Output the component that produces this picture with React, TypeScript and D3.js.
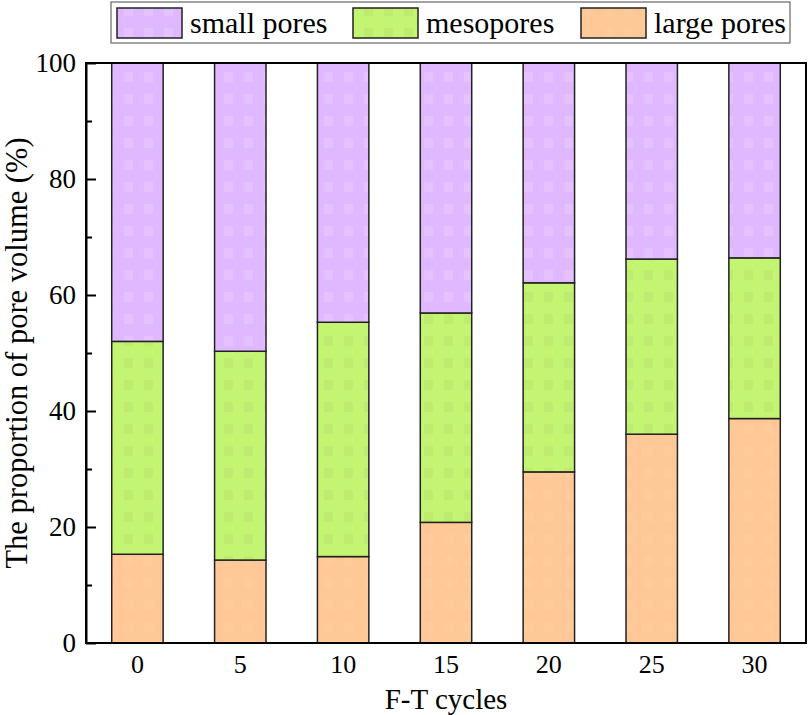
import React, { useEffect, useRef } from "react";
import * as d3 from "d3";

const categories = ["0", "5", "10", "15", "20", "25", "30"];
const largePores = [15.3, 14.3, 14.9, 20.8, 29.5, 36.0, 38.7];
const mesopores = [36.7, 36.0, 40.4, 36.1, 32.6, 30.2, 27.7];
const smallPores = [48.0, 49.7, 44.7, 43.1, 37.9, 33.8, 33.6];
const seriesNames = ["large pores", "mesopores", "small pores"];
const legendOrder = ["small pores", "mesopores", "large pores"];
const yTicks = [0, 20, 40, 60, 80, 100];
const yMinorTicks = [10, 30, 50, 70, 90];

const W = 809;
const H = 715;
const M = { left: 86, right: 806, top: 63, bottom: 643 };
const FONT = '"Liberation Serif", "Times New Roman", Times, "DejaVu Serif", serif';

const colors: Record<string, string> = {
  "small pores": "#DFB8FF",
  mesopores: "#C3F472",
  "large pores": "#FFC896",
};
const patternTint: Record<string, string> = {
  "small pores": "#E4C2FF",
  mesopores: "#BFEC70",
  "large pores": "#FFCB9B",
};

export default function App() {
  const ref = useRef<SVGSVGElement | null>(null);

  useEffect(() => {
    const svg = d3.select(ref.current);
    svg.selectAll("*").remove();

    const defs = svg.append("defs");
    seriesNames.forEach((name, i) => {
      const p = defs
        .append("pattern")
        .attr("id", "pat" + i)
        .attr("patternUnits", "userSpaceOnUse")
        .attr("width", 20)
        .attr("height", 22);
      p.append("rect").attr("width", 20).attr("height", 22).attr("fill", colors[name]);
      p.append("rect").attr("x", 4).attr("y", 6).attr("width", 9).attr("height", 10).attr("fill", patternTint[name]);
    });

    const x = d3
      .scaleBand<string>()
      .domain(categories)
      .range([M.left, M.right])
      .paddingInner(0.5)
      .paddingOuter(0.25);
    const y = d3.scaleLinear().domain([0, 100]).range([M.bottom, M.top]);

    const rows = categories.map((c, i) => ({
      cat: c,
      "large pores": largePores[i],
      mesopores: mesopores[i],
      "small pores": smallPores[i],
    }));
    const stack = d3.stack<any>().keys(seriesNames);
    const stacked = stack(rows);

    const g = svg.append("g");
    stacked.forEach((layer, li) => {
      g.append("g")
        .selectAll("rect")
        .data(layer)
        .join("rect")
        .attr("x", (d: any) => x(d.data.cat)!)
        .attr("width", x.bandwidth())
        .attr("y", (d: any) => y(Math.min(d[1], 100)))
        .attr("height", (d: any) => y(d[0]) - y(Math.min(d[1], 100)))
        .attr("fill", `url(#pat${li})`)
        .attr("stroke", "#222")
        .attr("stroke-width", 1.5);
    });

    // frame
    svg
      .append("rect")
      .attr("x", M.left)
      .attr("y", M.top)
      .attr("width", M.right - M.left)
      .attr("height", M.bottom - M.top)
      .attr("fill", "none")
      .attr("stroke", "#000")
      .attr("stroke-width", 2);

    // y axis
    const yAxis = d3
      .axisLeft(y)
      .tickValues(yTicks)
      .tickSizeInner(-10)
      .tickSizeOuter(0)
      .tickPadding(10);
    const ya = svg.append("g").attr("transform", `translate(${M.left},0)`).call(yAxis);
    ya.attr("font-family", null).attr("font-size", null);
    ya.select(".domain").attr("stroke", "#000").attr("stroke-width", 2);
    ya.selectAll("line").attr("stroke", "#000").attr("stroke-width", 2);
    ya.selectAll("text")
      .style("font-family", FONT)
      .style("font-size", "27px")
      .attr("fill", "#000");
    const yMinor = d3.axisLeft(y).tickValues(yMinorTicks).tickSizeInner(-6).tickSizeOuter(0).tickFormat(() => "");
    const ym = svg.append("g").attr("transform", `translate(${M.left},0)`).call(yMinor);
    ym.select(".domain").remove();
    ym.selectAll("line").attr("stroke", "#000").attr("stroke-width", 2);

    // x axis
    const xAxis = d3.axisBottom(x).tickSize(0).tickPadding(12);
    const xa = svg.append("g").attr("transform", `translate(0,${M.bottom})`).call(xAxis);
    xa.attr("font-family", null).attr("font-size", null);
    xa.select(".domain").remove();
    xa.selectAll("text")
      .style("font-family", FONT)
      .style("font-size", "26px")
      .attr("fill", "#000");

    // axis titles
    svg
      .append("text")
      .attr("x", (M.left + M.right) / 2)
      .attr("y", 709)
      .attr("text-anchor", "middle")
      .style("font-family", FONT)
      .style("font-size", "29px")
      .text("F-T cycles");
    svg
      .append("text")
      .attr("transform", `translate(27,${(M.top + M.bottom) / 2}) rotate(-90)`)
      .attr("text-anchor", "middle")
      .style("font-family", FONT)
      .style("font-size", "30.5px")
      .text("The proportion of pore volume (%)");

    // legend
    const lg = svg.append("g");
    lg.append("rect")
      .attr("x", 111)
      .attr("y", 2)
      .attr("width", 679)
      .attr("height", 41)
      .attr("fill", "#fff")
      .attr("stroke", "#666")
      .attr("stroke-width", 1.2);
    const legendX = [117, 353, 581];
    legendOrder.forEach((name, i) => {
      const li = seriesNames.indexOf(name);
      lg.append("rect")
        .attr("x", legendX[i])
        .attr("y", 8)
        .attr("width", 65)
        .attr("height", 30)
        .attr("fill", `url(#pat${li})`)
        .attr("stroke", "#222")
        .attr("stroke-width", 1.5);
      lg.append("text")
        .attr("x", legendX[i] + 73)
        .attr("y", 33)
        .style("font-family", FONT)
        .style("font-size", "30px")
        .attr("fill", "#000")
        .text(name);
    });
  }, []);

  return (
    <svg
      ref={ref}
      width={W}
      height={H}
      style={{ position: "absolute", left: 0, top: 0, background: "#fff" }}
    />
  );
}
